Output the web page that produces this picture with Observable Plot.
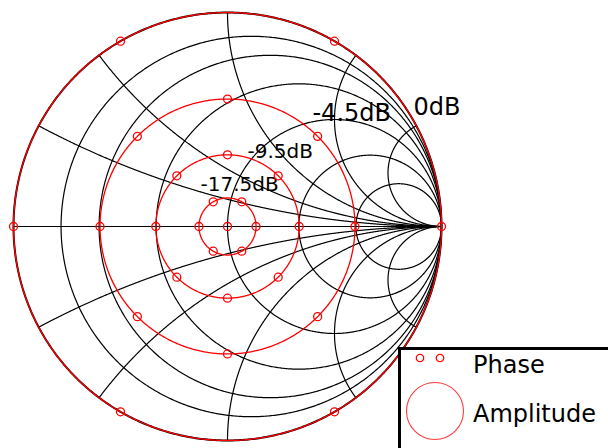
<!DOCTYPE html>
<html><head><meta charset="utf-8">
<script src="https://cdn.jsdelivr.net/npm/d3@7"></script>
<script src="https://cdn.jsdelivr.net/npm/@observablehq/plot@0.6"></script>
<style>
html,body{margin:0;padding:0;background:#fff;}
#wrap{position:relative;width:608px;height:448px;overflow:hidden;font-family:"DejaVu Sans",sans-serif;}
#legend{position:absolute;left:398px;top:347px;width:230px;height:120px;border:3px solid #000;background:#fff;box-sizing:border-box;}
#legend svg{position:absolute;left:0;top:0;overflow:visible;}
</style></head><body><div id="wrap"></div>
<script>
// Smith chart grid values
const resistanceValues = [0, 0.125, 0.25, 0.5, 1, 2, 4];
const reactanceValues = [0, 0.25, 0.5, 1, 2, 4, -0.25, -0.5, -1, -2, -4];
// Amplitude circles (dB)
const amplitudeDb = [0, -4.5, -9.5, -17.5];
const amplitudeLabels = ["0dB", "-4.5dB", "-9.5dB", "-17.5dB"];
// Phase points (degrees) on each amplitude circle
const phaseDeg0dB = [0, 60, 120, 180, 240, 300];
const phaseDegM4_5dB = [0, 45, 90, 135, 180, 225, 270, 315];
const phaseDegM9_5dB = [0, 45, 90, 135, 180, 225, 270, 315];
const phaseDegM17_5dB = [0, 60, 120, 180, 240, 300];
const phaseDegCenter = [0]; // zero amplitude point
// Label anchor positions (reflection-coefficient plane)
const labelGammaX = [0.869, 0.397, 0.0935, -0.126];
const labelGammaY = [0.519, 0.495, 0.322, 0.168];

const mag = db => Math.pow(10, db / 20);

// grid lines
const grid = [];
resistanceValues.forEach((r, i) => {
  const c = r / (1 + r), rad = 1 / (1 + r);
  for (let k = 0; k <= 720; k++) {
    const a = 2 * Math.PI * k / 720;
    grid.push({id: "r" + i, outer: r === 0, x: c + rad * Math.cos(a), y: rad * Math.sin(a)});
  }
});
reactanceValues.forEach((X, i) => {
  const N = 800;
  for (let k = 0; k < N; k++) {
    const t = Math.tan((Math.PI / 2) * k / N);
    const den = (t + 1) * (t + 1) + X * X;
    grid.push({id: "x" + i, outer: false, x: (t * t - 1 + X * X) / den, y: 2 * X / den});
  }
  grid.push({id: "x" + i, outer: false, x: 1, y: 0});
});

// amplitude circles
const amp = [];
amplitudeDb.forEach((db, i) => {
  const m = mag(db);
  for (let k = 0; k <= 720; k++) {
    const a = 2 * Math.PI * k / 720;
    amp.push({id: i, x: m * Math.cos(a), y: m * Math.sin(a)});
  }
});

// phase points
const phaseSets = [
  [mag(0), phaseDeg0dB],
  [mag(-4.5), phaseDegM4_5dB],
  [mag(-9.5), phaseDegM9_5dB],
  [mag(-17.5), phaseDegM17_5dB],
  [0, phaseDegCenter]
];
const pts = [];
phaseSets.forEach(([m, degs]) => degs.forEach(d => {
  const a = d * Math.PI / 180;
  pts.push({x: m * Math.cos(a), y: m * Math.sin(a)});
}));

const labels = amplitudeLabels.map((t, i) => ({text: t, x: labelGammaX[i], y: labelGammaY[i], big: i < 2}));

const chart = Plot.plot({
  width: 608, height: 448, margin: 0,
  x: {domain: [-1, 1], range: [13, 441], axis: null},
  y: {domain: [-1, 1], range: [440, 12], axis: null},
  style: {fontFamily: "DejaVu Sans", background: "white", overflow: "visible"},
  marks: [
    Plot.line(grid.filter(d => d.outer), {x: "x", y: "y", z: "id", stroke: "black", strokeWidth: 2, curve: "linear"}),
    Plot.line(grid.filter(d => !d.outer), {x: "x", y: "y", z: "id", stroke: "black", strokeWidth: 1.2, curve: "linear"}),
    Plot.text(labels.filter(d => d.big), {x: "x", y: "y", text: "text", fontSize: 24, textAnchor: "start", lineAnchor: "bottom", fill: "black", ariaLabel: "db-label"}),
    Plot.text(labels.filter(d => !d.big), {x: "x", y: "y", text: "text", fontSize: 20, textAnchor: "start", lineAnchor: "bottom", fill: "black", ariaLabel: "db-label"}),
    Plot.line(amp, {x: "x", y: "y", z: "id", stroke: "red", strokeWidth: 1.3, curve: "linear"}),
    Plot.dot(pts, {x: "x", y: "y", r: 4, stroke: "red", fill: "none", strokeWidth: 1.3})
  ]
});

const wrap = document.getElementById("wrap");
wrap.appendChild(chart);
chart.querySelectorAll('g[aria-label="db-label"] text').forEach(t => {
  const b = t.getBBox();
  const r = document.createElementNS("http://www.w3.org/2000/svg", "rect");
  r.setAttribute("x", b.x);
  r.setAttribute("y", b.y);
  r.setAttribute("width", b.width);
  r.setAttribute("height", b.height);
  r.setAttribute("fill", "white");
  const tr = t.getAttribute("transform");
  if (tr) r.setAttribute("transform", tr);
  t.parentNode.insertBefore(r, t);
});

// legend
const legend = document.createElement("div");
legend.id = "legend";
legend.innerHTML = `<svg width="230" height="120" font-family="DejaVu Sans" font-size="24">
  <circle cx="19" cy="8" r="3.7" fill="none" stroke="red" stroke-width="1.3"></circle>
  <circle cx="39" cy="8" r="3.7" fill="none" stroke="red" stroke-width="1.3"></circle>
  <text x="72" y="23" fill="black">Phase</text>
  <circle cx="34" cy="61" r="28.5" fill="none" stroke="#ff3b3b" stroke-width="1.1"></circle>
  <text x="72" y="72" fill="black">Amplitude</text>
</svg>`;
wrap.appendChild(legend);
</script></body></html>
